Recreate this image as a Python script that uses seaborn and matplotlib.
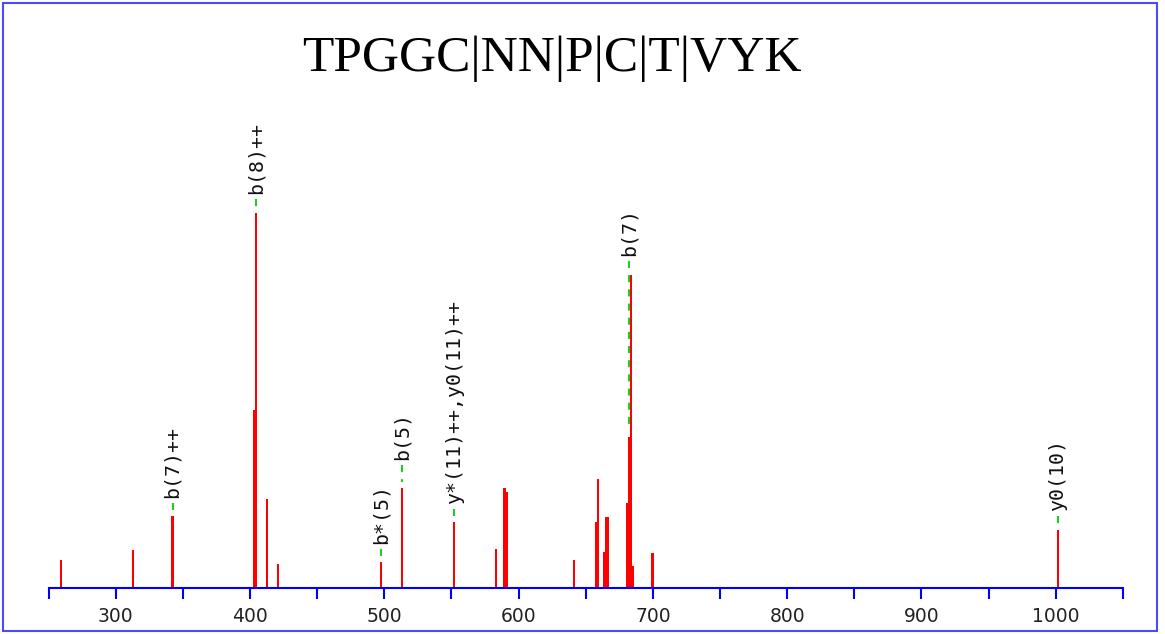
import numpy as np
import pandas as pd
import matplotlib
matplotlib.use("Agg")
import matplotlib.pyplot as plt
from matplotlib.patches import Rectangle
from matplotlib.ticker import FixedLocator, NullFormatter
import seaborn as sns

# ---- peptide and fragment spectrum ----
peptide = "TPGGC|NN|P|C|T|VYK"

mz = [259.3, 312.7, 342.4, 403.4, 404.8, 412.7, 420.6, 497.5, 513.0, 552.2,
      583.3, 589.5, 591.2, 641.5, 657.5, 658.9, 663.4, 664.9, 666.8, 680.9,
      682.2, 683.7, 685.2, 699.7, 1001.4]
intensity = [7.4, 10.2, 19.2, 47.5, 100.0, 23.7, 6.4, 6.9, 26.7, 17.6,
             10.3, 26.7, 25.5, 7.5, 17.6, 29.1, 9.6, 18.9, 18.9, 22.7,
             40.3, 83.5, 5.9, 9.3, 15.5]

ion_mz = [342.4, 404.8, 497.5, 513.0, 552.2, 682.2, 1001.4]
ion_labels = ["b(7)++", "b(8)++", "b*(5)", "b(5)", "y*(11)++,y0(11)++",
              "b(7)", "y0(10)"]

tick_values = [300, 400, 500, 600, 700, 800, 900, 1000]
tick_labels = [str(v) for v in tick_values]

# ---- styling ----
sns.set_theme(style="white")
plt.rcParams["font.family"] = ["DejaVu Sans"]

W_PX, H_PX, DPI = 1165, 634, 100
X_MIN, X_MAX = 250, 1050
Y_MAX = 120.0
BLUE = "#0000ff"
RED = "#ff0000"
GREEN = "#22cc22"

fig = plt.figure(figsize=(W_PX / DPI, H_PX / DPI), dpi=DPI)
ax_left, ax_bottom, ax_w, ax_h = 48.5, 46.0, 1074.4, 450.0  # pixels
ax = fig.add_axes([ax_left / W_PX, ax_bottom / H_PX, ax_w / W_PX, ax_h / H_PX])
px_per_unit = ax_h / Y_MAX
px_per_mz = ax_w / (X_MAX - X_MIN)

df = pd.DataFrame({"mz": mz, "intensity": intensity})
bar_mz = 2.2 / px_per_mz              # bars about two pixels wide
min_gap = np.diff(np.unique(df["mz"])).min()
sns.barplot(data=df, x="mz", y="intensity", native_scale=True,
            width=bar_mz / min_gap, color=RED, saturation=1,
            errorbar=None, linewidth=0, ax=ax)

ax.set_xlim(X_MIN, X_MAX)
ax.set_ylim(0, Y_MAX)
ax.set_xlabel("")
ax.set_ylabel("")
ax.set_yticks([])
for side in ("left", "right", "top"):
    ax.spines[side].set_visible(False)
ax.spines["bottom"].set_color(BLUE)
ax.spines["bottom"].set_linewidth(1.5)
ax.set_facecolor("none")

ax.xaxis.set_major_locator(FixedLocator(tick_values))
ax.set_xticklabels(tick_labels)
ax.xaxis.set_minor_locator(FixedLocator(np.arange(X_MIN, X_MAX + 1, 100)))
ax.xaxis.set_minor_formatter(NullFormatter())
ax.tick_params(axis="x", which="both", direction="out", length=8.0,
               width=1.5, color=BLUE, bottom=True)
ax.tick_params(axis="x", which="major", pad=5.5, labelsize=13.5,
               labelcolor="#222222")

# ---- fragment ion annotations ----
gap_px = {"b(5)": 28.0}
for pos, text in zip(ion_mz, ion_labels):
    top = df.loc[(df["mz"] - pos).abs() < 0.05, "intensity"].iloc[0]
    near = df.loc[(df["mz"] - pos).abs() <= 2.0, "intensity"].max()
    label_y = near + gap_px.get(text, 18.5) / px_per_unit
    ax.text(pos, label_y, text, rotation=90, ha="center", va="bottom",
            family="DejaVu Sans Mono", fontsize=14.3, color="#111111")
    ax.plot([pos, pos],
            [label_y - 5.0 / px_per_unit, top + 6.0 / px_per_unit],
            color=GREEN, linewidth=1.5, linestyle=(0, (3.4, 3.4)),
            solid_capstyle="butt", dash_capstyle="butt")

# ---- title and frame ----
fig.text(552 / W_PX, 1 - 71 / H_PX, peptide, ha="center", va="baseline",
         family="Liberation Serif", fontsize=37, color="black")
fig.add_artist(Rectangle((3 / W_PX, 3 / H_PX), 1154 / W_PX, 628 / H_PX,
                         transform=fig.transFigure, fill=False,
                         edgecolor="#4a4aff", linewidth=1.5))

fig.savefig("out.png", dpi=DPI, facecolor="white")
